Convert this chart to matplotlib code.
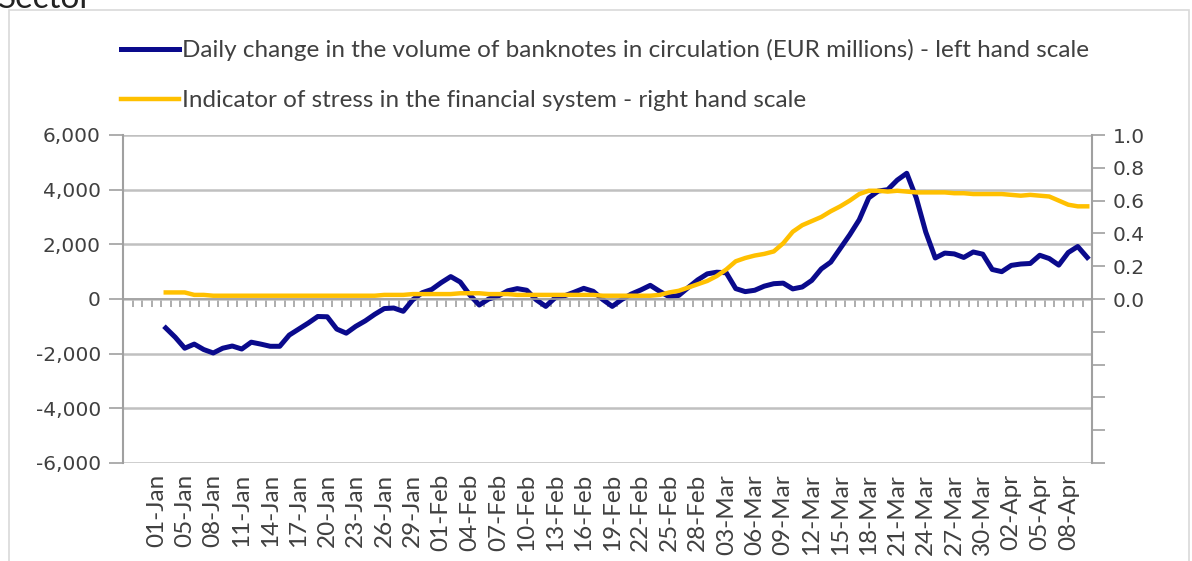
import numpy as np
import matplotlib.pyplot as plt
from matplotlib.ticker import FuncFormatter
from matplotlib.patches import Rectangle

# one category per day on the x axis, every third one labelled
n_days = 102
first_label = 3
label_step = 3
date_labels = ['01-Jan', '05-Jan', '08-Jan', '11-Jan', '14-Jan', '17-Jan', '20-Jan',
               '23-Jan', '26-Jan', '29-Jan', '01-Feb', '04-Feb', '07-Feb', '10-Feb',
               '13-Feb', '16-Feb', '19-Feb', '22-Feb', '25-Feb', '28-Feb', '03-Mar',
               '06-Mar', '09-Mar', '12-Mar', '15-Mar', '18-Mar', '21-Mar', '24-Mar',
               '27-Mar', '30-Mar', '02-Apr', '05-Apr', '08-Apr']

# series start one day after the first label
data_start = 4

# daily change in the volume of banknotes in circulation (EUR millions)
banknotes = [-1060, -1400, -1800, -1650, -1850, -1975, -1800, -1720, -1830, -1580,
             -1650, -1730, -1730, -1320, -1100, -880, -640, -650, -1100, -1250,
             -1000, -800, -560, -350, -330, -450, -30, 230, 350, 600,
             820, 620, 150, -220, 0, 110, 300, 380, 320, -30,
             -270, 50, 120, 250, 390, 280, -20, -270, -20, 180,
             330, 500, 280, 80, 130, 420, 700, 920, 980, 960,
             380, 270, 320, 470, 560, 580, 370, 440, 680, 1100,
             1350, 1850, 2350, 2900, 3700, 3950, 4000, 4350, 4600, 3700,
             2450, 1500, 1680, 1650, 1520, 1720, 1640, 1080, 1000, 1230,
             1280, 1300, 1600, 1480, 1240, 1700, 1920, 1520]

# indicator of stress in the financial system
stress = [0.04, 0.04, 0.04, 0.025, 0.025, 0.02, 0.02, 0.02, 0.02, 0.02,
          0.02, 0.02, 0.02, 0.02, 0.02, 0.02, 0.02, 0.02, 0.02, 0.02,
          0.02, 0.02, 0.02, 0.025, 0.025, 0.025, 0.03, 0.03, 0.03, 0.03,
          0.03, 0.035, 0.035, 0.035, 0.03, 0.03, 0.03, 0.025, 0.025, 0.025,
          0.025, 0.025, 0.025, 0.025, 0.025, 0.025, 0.02, 0.02, 0.02, 0.02,
          0.02, 0.02, 0.025, 0.04, 0.05, 0.07, 0.09, 0.11, 0.14, 0.18,
          0.23, 0.25, 0.265, 0.275, 0.29, 0.34, 0.41, 0.45, 0.475, 0.5,
          0.535, 0.565, 0.6, 0.64, 0.66, 0.66, 0.655, 0.66, 0.655, 0.65,
          0.65, 0.65, 0.65, 0.645, 0.645, 0.64, 0.64, 0.64, 0.64, 0.635,
          0.63, 0.635, 0.63, 0.625, 0.6, 0.575, 0.565, 0.565]

blue = '#0A0A8C'
gold = '#FFC000'
grey_text = '#404040'
axis_grey = '#A0A0A0'

fig = plt.figure(figsize=(11.92, 5.61), dpi=100)
ax = fig.add_axes([123 / 1192, 1 - 463 / 561, (1092 - 123) / 1192, (463 - 135) / 561])
ax2 = ax.twinx()

x = np.arange(data_start, data_start + len(banknotes))
l1, = ax.plot(x, banknotes, color=blue, lw=3.6, solid_joinstyle='round',
              label='Daily change in the volume of banknotes in circulation (EUR millions) - left hand scale')
l2, = ax2.plot(x, stress, color=gold, lw=3.2, solid_joinstyle='round',
               label='Indicator of stress in the financial system - right hand scale')

# left scale
ax.set_xlim(-0.5, n_days - 0.5)
ax.set_ylim(-6000, 6000)
ax.set_yticks(np.arange(-6000, 6001, 2000))
ax.yaxis.set_major_formatter(FuncFormatter(lambda v, p: f'{v:,.0f}'))
ax.grid(axis='y', color='#C0C0C0', lw=1.8)
ax.set_axisbelow(True)
ax.tick_params(axis='y', direction='out', length=10, width=1.2, color=axis_grey,
               labelsize=14.5, labelcolor=grey_text, pad=6)

# category axis crosses at zero, labels sit at the bottom
ax.spines['bottom'].set_position(('data', 0))
ax.spines['bottom'].set_color(axis_grey)
ax.spines['bottom'].set_linewidth(1.2)
ax.spines['top'].set_visible(False)
ax.spines['left'].set_color(axis_grey)
ax.spines['left'].set_linewidth(1.5)
ax.spines['right'].set_visible(False)
ax.set_xticks(np.arange(0.5, n_days - 0.5, 1))
ax.tick_params(axis='x', direction='out', length=6, width=1.2, color=axis_grey,
               labelbottom=False)

sec = ax.secondary_xaxis(0)
sec.set_xticks(np.arange(first_label, first_label + label_step * len(date_labels), label_step),
               date_labels)
sec.tick_params(length=0, pad=8, labelsize=17.5, labelcolor=grey_text, labelrotation=90)
sec.spines['bottom'].set_visible(False)
for t in sec.get_xticklabels():
    t.set_fontfamily('Lato')

# right scale, only the positive half is labelled
ax2.set_ylim(-1, 1)
ax2.set_yticks(np.round(np.arange(-1, 1.01, 0.2), 1))
ax2.yaxis.set_major_formatter(
    FuncFormatter(lambda v, p: f'{abs(v):.1f}' if abs(v) < 1e-9 else (f'{v:.1f}' if v > 0 else '')))
ax2.tick_params(axis='y', direction='out', length=9, width=1.2, color=axis_grey,
                labelsize=14.5, labelcolor=grey_text, pad=6)
for s in ['top', 'bottom', 'left']:
    ax2.spines[s].set_visible(False)
ax2.spines['right'].set_color(axis_grey)
ax2.spines['right'].set_linewidth(1.5)

leg = fig.legend(handles=[l1, l2], loc='upper left',
                 bbox_to_anchor=(121 / 1192, 1 - 39 / 561), frameon=False,
                 prop={'family': 'Lato', 'size': 17.5}, labelcolor=grey_text,
                 handlelength=2.4, handletextpad=0.1, labelspacing=1.2,
                 borderpad=0, borderaxespad=0)

# chart frame and the clipped section heading above it
fig.patches.append(Rectangle((9 / 1192, -0.02), 1180 / 1192, 1.02 - 10 / 561,
                             transform=fig.transFigure, fill=False,
                             edgecolor='#D9D9D9', lw=1.2))
fig.text(-0.002, 1 - 8 / 561, 'Sector', fontsize=24, family='Lato',
         color='#222222', va='baseline', ha='left')

fig.savefig('out.png', dpi=100)
